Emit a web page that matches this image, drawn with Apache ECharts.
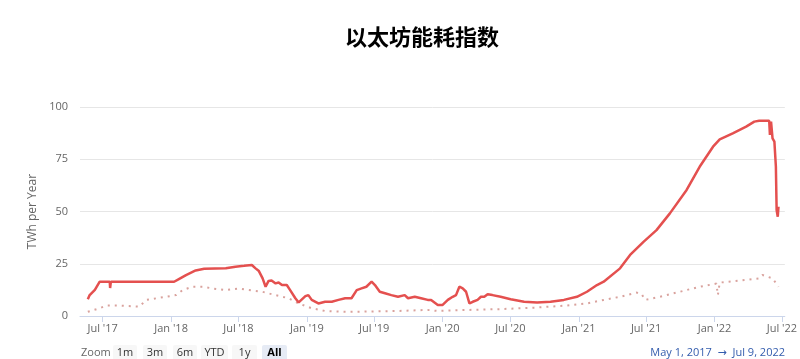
<!DOCTYPE html>
<html><head><meta charset="utf-8">
<script src="https://cdn.jsdelivr.net/npm/echarts@6/dist/echarts.min.js"></script>
<style>html,body{margin:0;padding:0;background:#fff}#c{width:800px;height:359px}</style>
</head><body><div id="c"></div>
<script>
var estDates = ['2017-05-22','2017-05-27','2017-06-10','2017-06-23','2017-07-20','2017-07-21','2017-07-23','2017-09-17','2017-09-18','2017-09-20','2018-01-09','2018-01-23','2018-02-10','2018-03-08','2018-03-31','2018-05-28','2018-06-23','2018-07-16','2018-08-06','2018-08-11','2018-08-16','2018-08-25','2018-08-29','2018-09-04','2018-09-12','2018-09-20','2018-09-28','2018-10-09','2018-10-17','2018-10-26','2018-11-08','2018-11-13','2018-11-17','2018-12-01','2018-12-10','2018-12-14','2018-12-28','2019-01-05','2019-01-14','2019-02-01','2019-02-19','2019-03-09','2019-03-27','2019-04-14','2019-05-01','2019-05-15','2019-05-28','2019-06-10','2019-06-24','2019-07-03','2019-07-16','2019-07-30','2019-08-16','2019-09-03','2019-09-21','2019-09-30','2019-10-18','2019-11-04','2019-11-22','2019-12-01','2019-12-19','2020-01-01','2020-01-15','2020-01-28','2020-02-06','2020-02-15','2020-02-24','2020-03-04','2020-03-08','2020-03-13','2020-03-22','2020-04-04','2020-04-13','2020-04-22','2020-05-01','2020-05-14','2020-06-05','2020-07-02','2020-08-07','2020-09-11','2020-10-17','2020-11-22','2020-12-27','2021-01-23','2021-02-19','2021-03-09','2021-04-22','2021-05-19','2021-06-24','2021-07-29','2021-09-03','2021-10-18','2021-11-22','2021-12-28','2022-01-15','2022-02-19','2022-03-27','2022-04-18','2022-05-01','2022-05-28','2022-05-30','2022-06-02','2022-06-06','2022-06-11','2022-06-15','2022-06-17','2022-06-20','2022-06-22'];
var estValues = [8,10,12.5,16.4,16.4,13.4,16.4,16.4,15.6,16.4,16.4,17.8,19.6,21.8,22.6,22.8,23.6,24,24.4,24.6,22.8,21.5,22,18,14,16.8,17,15.6,16,14.8,14.8,15.6,12.4,8.5,6.5,6.8,9.5,10,7.7,6,6.8,6.8,7.7,8.5,8.5,12.4,13.2,14,16.4,14.8,11.6,10.9,10,9.2,10,8.5,9.2,8.5,7.7,7.7,5.3,5.3,7.7,9.2,10,14,13.2,11.6,11,6,6.8,7.7,9.2,9.2,10.4,10,9.2,8,6.8,6.5,6.8,7.7,9.2,11.6,14.8,16.4,22.8,29.2,35.5,41.1,49.1,60.3,71.4,81,84.5,87.4,90.6,93,93.4,93.4,86.6,93,85,83.4,71.4,50.7,47.5,52.3];
var minDates = ['2017-05-22','2017-06-23','2017-07-11','2017-08-15','2017-10-08','2017-10-26','2017-12-18','2018-01-14','2018-02-01','2018-02-27','2018-03-26','2018-04-22','2018-05-28','2018-07-02','2018-07-29','2018-09-03','2018-10-08','2018-11-13','2018-12-10','2019-01-14','2019-02-19','2019-04-22','2019-09-03','2019-11-22','2019-12-19','2020-03-08','2020-06-05','2020-09-03','2020-12-01','2021-01-23','2021-03-09','2021-04-22','2021-06-06','2021-06-19','2021-06-28','2021-08-07','2021-09-30','2021-11-22','2022-01-06','2022-01-10','2022-01-15','2022-03-09','2022-05-01','2022-05-10','2022-06-06','2022-06-22'];
var minValues = [2,3.7,5,5,4.5,7.7,9.2,10,12.4,14,14,13.2,12.4,13.2,12.4,11.6,10,8.5,6,3.7,2.4,2,2.4,2.9,2.4,2.9,3.3,4,5,6,7.7,9.2,11.2,10.5,7.7,9.2,11.6,14,15.5,10,16,16.9,18,19.6,18,14];
var tickDates = ['2017-07-01','2018-01-01','2018-07-01','2019-01-01','2019-07-01','2020-01-01','2020-07-01','2021-01-01','2021-07-01','2022-01-01','2022-07-01'];
var tickLabels = ["Jul '17","Jan '18","Jul '18","Jan '19","Jul '19","Jan '20","Jul '20","Jan '21","Jul '21","Jan '22","Jul '22"];
var yTicks = [0,25,50,75,100];
var titleText = '以太坊能耗指数';
var yName = 'TWh per Year';
var zoomButtons = ['1m','3m','6m','YTD','1y','All'];
var rangeText = 'May 1, 2017  \u2192  Jul 9, 2022';

function ts(s){ var p=s.split('-'); return Date.UTC(+p[0],+p[1]-1,+p[2]); }
var tickTs = tickDates.map(ts);
var labelMap = {}; tickTs.forEach(function(t,i){ labelMap[t]=tickLabels[i]; });

var chart = echarts.init(document.getElementById('c'), null, {renderer:'canvas'});
var font = 'Open Sans, DejaVu Sans, sans-serif';
var btnX = [113,143,173,201,232,262], btnW = [24,24,24,27,25,25];
var graphics = [{type:'text', x:81, y:353, style:{text:'Zoom', fill:'#666', font:'11px '+font, verticalAlign:'middle'}}];
zoomButtons.forEach(function(b,i){
  var sel = (b==='All');
  graphics.push({type:'rect', shape:{x:btnX[i], y:345, width:btnW[i], height:20, r:2}, style:{fill: sel?'#e6ebf5':'#f7f7f7'}});
  graphics.push({type:'text', x:btnX[i]+btnW[i]/2, y:353, style:{text:b, fill: sel?'#000':'#333', font:(sel?'bold ':'')+'11px '+font, align:'center', verticalAlign:'middle'}});
});
graphics.push({type:'text', x:785, y:353, style:{text:rangeText, fill:'#335cad', font:'11px '+font, align:'right', verticalAlign:'middle'}});

chart.setOption({
  animation:false,
  title:{text:titleText, left:417, top:21, textAlign:'center', textStyle:{fontFamily:'Noto Sans CJK SC', fontWeight:'bold', fontSize:22, color:'#000'}},
  grid:{left:80, right:11, top:107, bottom:43, containLabel:false},
  xAxis:{type:'value', min:ts('2017-05-01'), max:ts('2022-07-09'),
    axisLine:{lineStyle:{color:'#ccd6eb'}},
    axisTick:{show:true, length:6, lineStyle:{color:'#ccd6eb'}, customValues:tickTs},
    axisLabel:{customValues:tickTs, color:'#666', fontSize:11, fontFamily:font, margin:7,
      formatter:function(v){ return labelMap[v] || ''; }},
    splitLine:{show:false}},
  yAxis:{type:'value', min:0, max:100, interval:25,
    name:yName, nameLocation:'middle', nameGap:38, nameTextStyle:{color:'#666', fontSize:12, fontFamily:font},
    axisLine:{show:false}, axisTick:{show:false},
    axisLabel:{color:'#666', fontSize:11, fontFamily:font, margin:12},
    splitLine:{lineStyle:{color:'#e6e6e6'}}},
  series:[
    {name:'Minimum', type:'line', showSymbol:false, data:minDates.map(function(d,i){return [ts(d),minValues[i]];}),
      lineStyle:{color:'#d9a29d', width:2, type:[2,5]}, z:1},
    {name:'Estimated', type:'line', showSymbol:false, data:estDates.map(function(d,i){return [ts(d),estValues[i]];}),
      lineStyle:{color:'#e4504f', width:2.5}, z:2}
  ],
  graphic:graphics
});
</script></body></html>
